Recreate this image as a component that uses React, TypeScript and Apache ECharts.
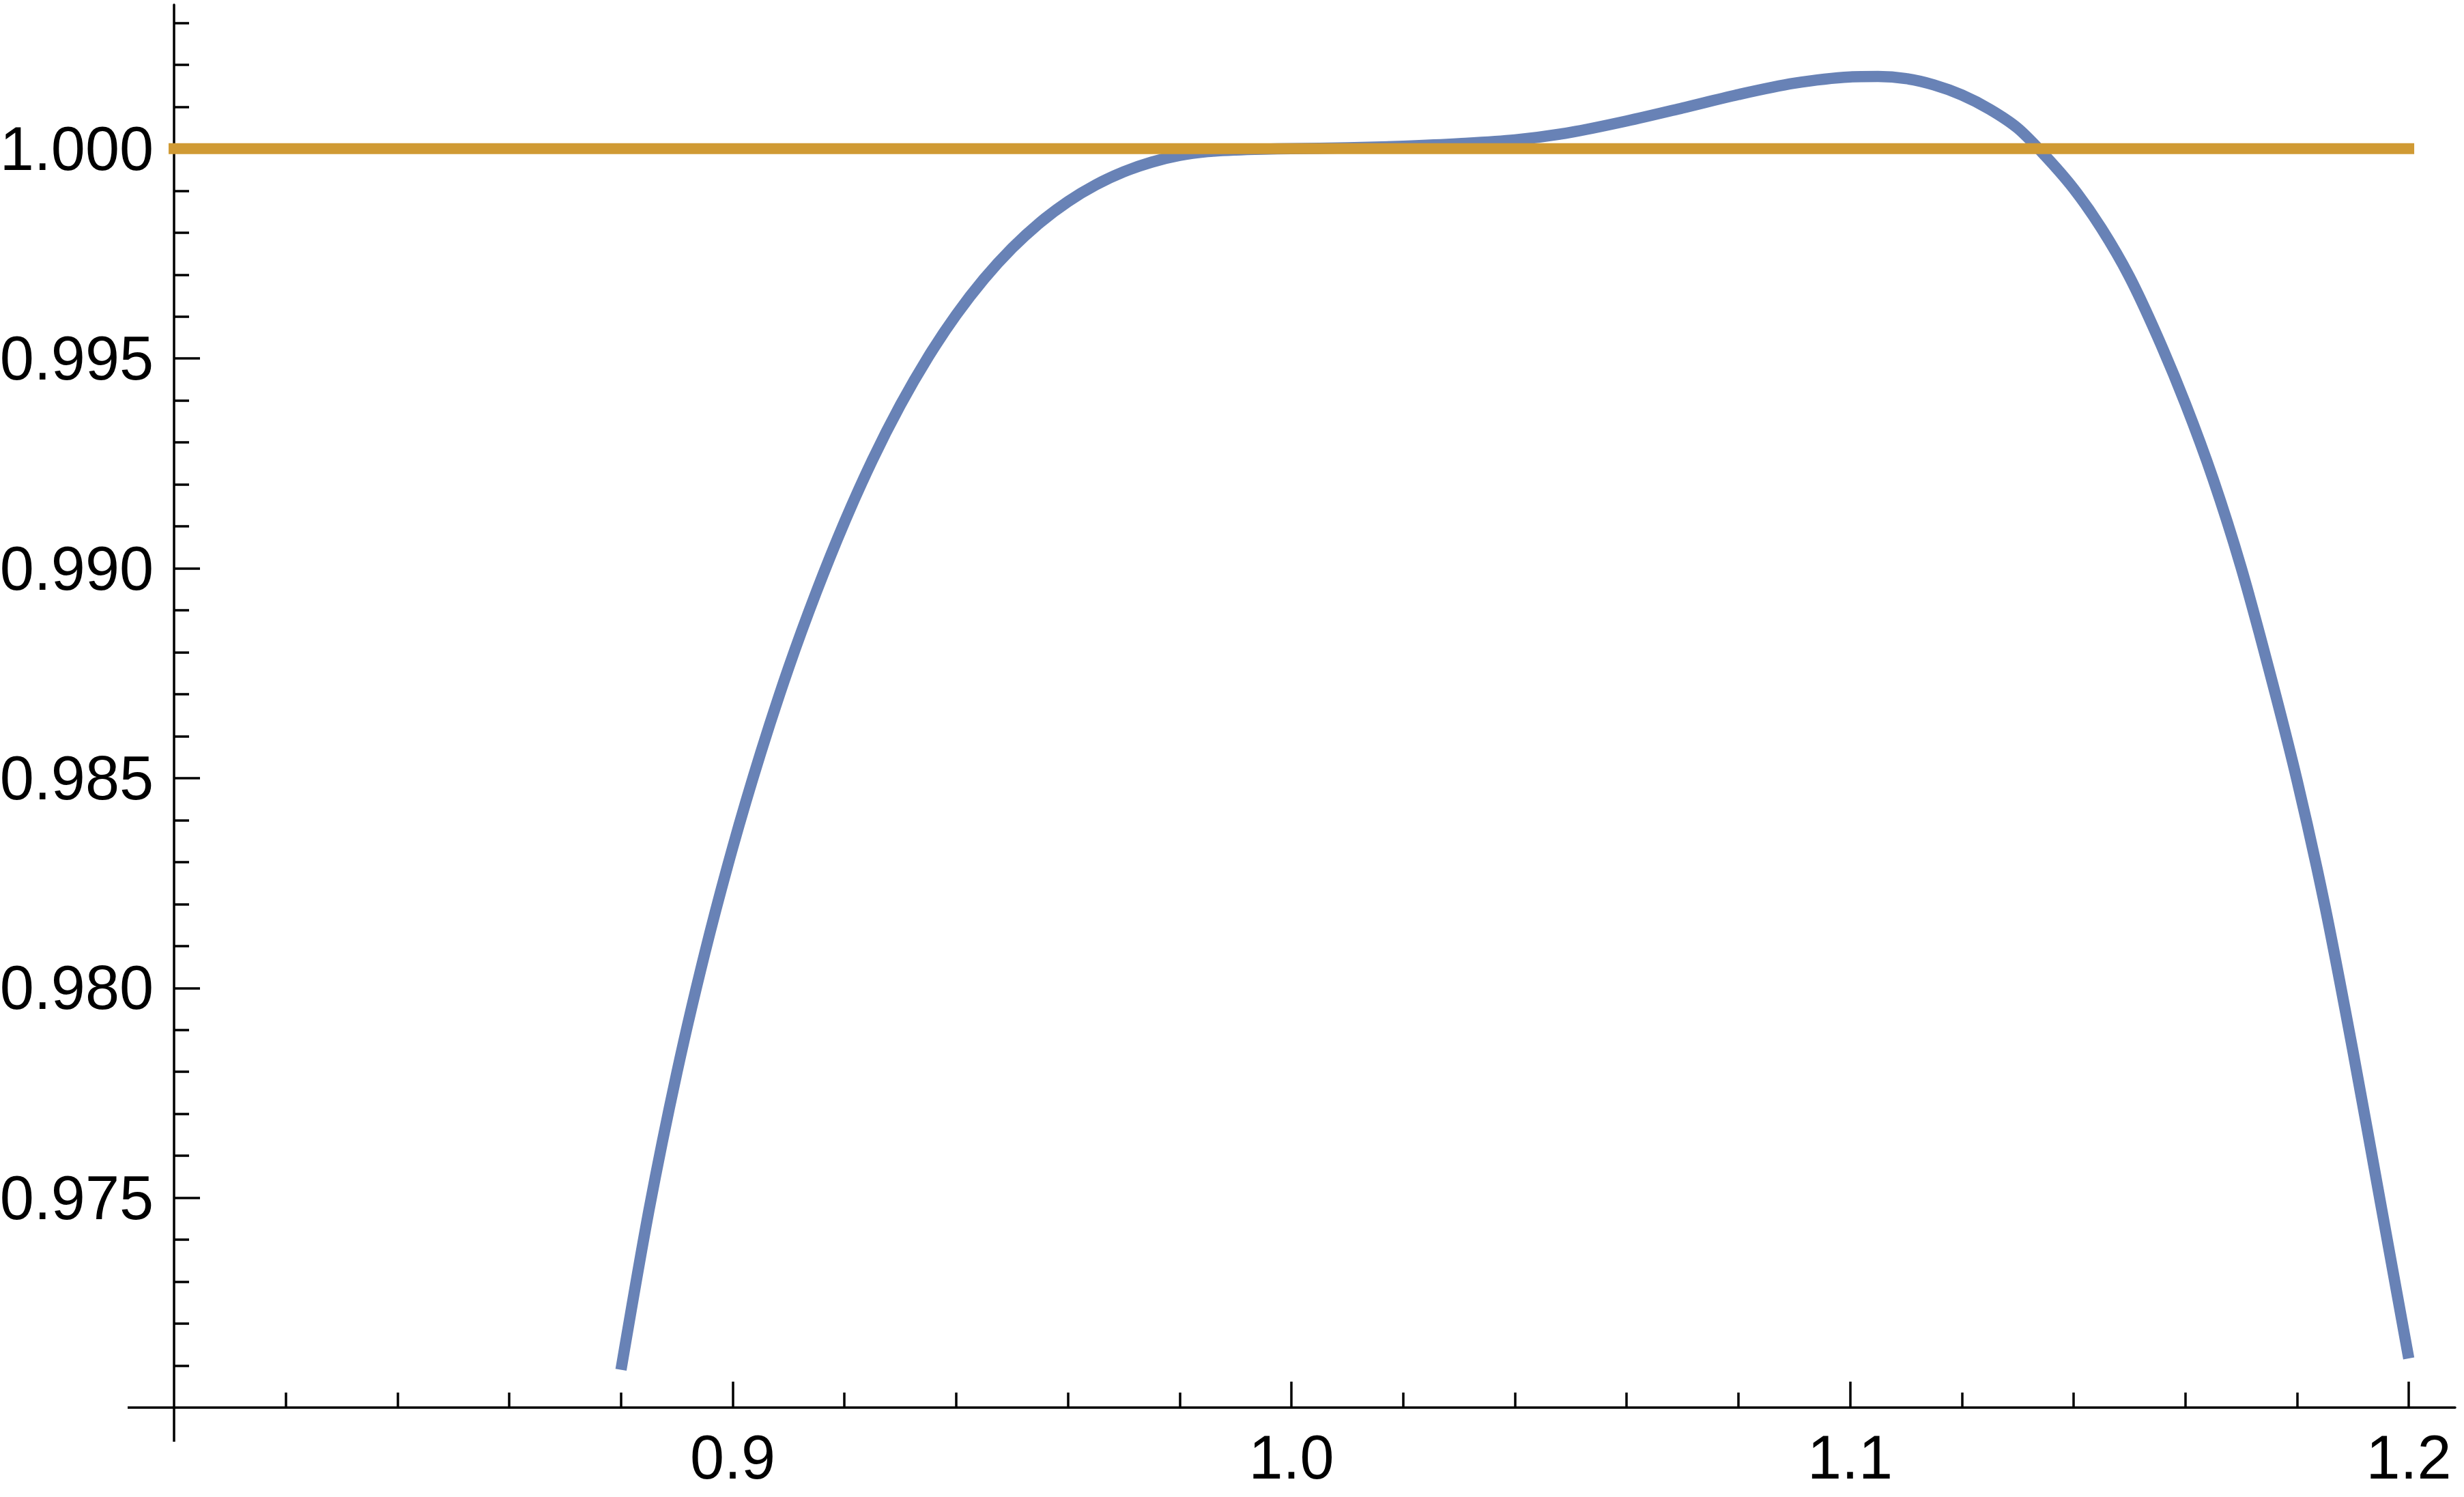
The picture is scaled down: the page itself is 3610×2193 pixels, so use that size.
import React, { useEffect, useRef } from "react";
import * as echarts from "echarts";

// Blue curve samples (x, y)
const curveX = [
  0.88, 0.885, 0.89, 0.895, 0.9, 0.905, 0.91, 0.915, 0.92, 0.925, 0.93, 0.935,
  0.94, 0.945, 0.95, 0.955, 0.96, 0.965, 0.97, 0.975, 0.98, 0.985, 0.99, 0.995,
  1.0, 1.01, 1.02, 1.03, 1.04, 1.05, 1.06, 1.07, 1.08, 1.09, 1.1, 1.105, 1.11,
  1.115, 1.12, 1.125, 1.13, 1.135, 1.14, 1.145, 1.15, 1.155, 1.16, 1.165,
  1.17, 1.175, 1.18, 1.185, 1.19, 1.195, 1.2,
];
const curveY = [
  0.9709, 0.9747, 0.97798, 0.98083, 0.98335, 0.9856, 0.98763, 0.98945,
  0.9911, 0.99258, 0.99389, 0.99504, 0.99604, 0.9969, 0.99763, 0.99824,
  0.99874, 0.99914, 0.99945, 0.99968, 0.99984, 0.99993, 0.99997, 0.99999,
  1.0, 1.00002, 1.00006, 1.00012, 1.00021, 1.00039, 1.00066, 1.00097, 1.00129,
  1.00156, 1.00171, 1.00172, 1.00167, 1.00152, 1.00128, 1.00094, 1.00049,
  0.99982, 0.99905, 0.9981, 0.99695, 0.99553, 0.99393, 0.99212, 0.99002,
  0.98758, 0.98495, 0.98195, 0.9785, 0.97484, 0.97117,
];

// Reference line y = 1
const refX = [0.8, 1.2];
const refY = [1.0, 1.0];

// Tick labels
const xTickValues = [0.9, 1.0, 1.1, 1.2];
const yTickValues = [0.975, 0.98, 0.985, 0.99, 0.995, 1.0];

const W = 3610;
const H = 2193;
const GRID_LEFT = 255;
const GRID_TOP = 7;
const GRID_RIGHT = 13;
const GRID_BOTTOM = 131;

export default function App() {
  const ref = useRef<HTMLDivElement>(null);

  useEffect(() => {
    document.body.style.margin = "0";
    const chart = echarts.init(ref.current!, null, { renderer: "svg" });
    const axisY = H - GRID_BOTTOM;
    const lineW = 3.5;
    const font = "Liberation Sans";

    chart.setOption({
      animation: false,
      backgroundColor: "#ffffff",
      grid: {
        left: GRID_LEFT,
        top: GRID_TOP,
        right: GRID_RIGHT,
        bottom: GRID_BOTTOM,
        containLabel: false,
        outerBoundsMode: "none",
      },
      xAxis: {
        type: "value",
        min: 0.8,
        max: 1.2083,
        interval: 0.1,
        splitLine: { show: false },
        axisLine: { show: true, lineStyle: { color: "#000", width: lineW } },
        axisTick: {
          show: true,
          inside: true,
          length: 38,
          customValues: xTickValues,
          lineStyle: { color: "#000", width: lineW },
        },
        minorTick: {
          show: true,
          splitNumber: 5,
          length: 22,
          lineStyle: { color: "#000", width: lineW },
        },
        axisLabel: {
          customValues: xTickValues,
          margin: 28,
          fontSize: 90,
          fontFamily: font,
          color: "#000",
          formatter: (v: number) => v.toFixed(1),
        },
      },
      yAxis: {
        type: "value",
        min: 0.97,
        max: 1.00343,
        interval: 0.005,
        splitLine: { show: false },
        axisLine: { show: true, lineStyle: { color: "#000", width: lineW } },
        axisTick: {
          show: true,
          inside: true,
          length: 38,
          customValues: yTickValues,
          lineStyle: { color: "#000", width: lineW },
        },
        minorTick: {
          show: true,
          splitNumber: 5,
          length: 22,
          lineStyle: { color: "#000", width: lineW },
        },
        axisLabel: {
          customValues: yTickValues,
          margin: 30,
          fontSize: 90,
          fontFamily: font,
          color: "#000",
          padding: [0, 0, 14, 0],
          formatter: (v: number) => v.toFixed(3),
        },
      },
      graphic: [
        {
          type: "line",
          shape: { x1: 187, y1: axisY, x2: GRID_LEFT, y2: axisY },
          style: { stroke: "#000", lineWidth: lineW },
          z: 10,
        },
        {
          type: "line",
          shape: { x1: GRID_LEFT, y1: axisY, x2: GRID_LEFT, y2: axisY + 50 },
          style: { stroke: "#000", lineWidth: lineW },
          z: 10,
        },
      ],
      series: [
        {
          type: "line",
          data: curveX.map((x, i) => [x, curveY[i]]),
          showSymbol: false,
          smooth: 0.3,
          clip: false,
          lineStyle: { color: "#6882B6", width: 16.5, cap: "butt", join: "round" },
          z: 2,
        },
        {
          type: "line",
          data: refX.map((x, i) => [x, refY[i]]),
          showSymbol: false,
          clip: false,
          lineStyle: { color: "#D09A34", width: 16, cap: "square" },
          z: 3,
        },
      ],
    });

    return () => chart.dispose();
  }, []);

  return <div ref={ref} style={{ width: W, height: H }} />;
}
